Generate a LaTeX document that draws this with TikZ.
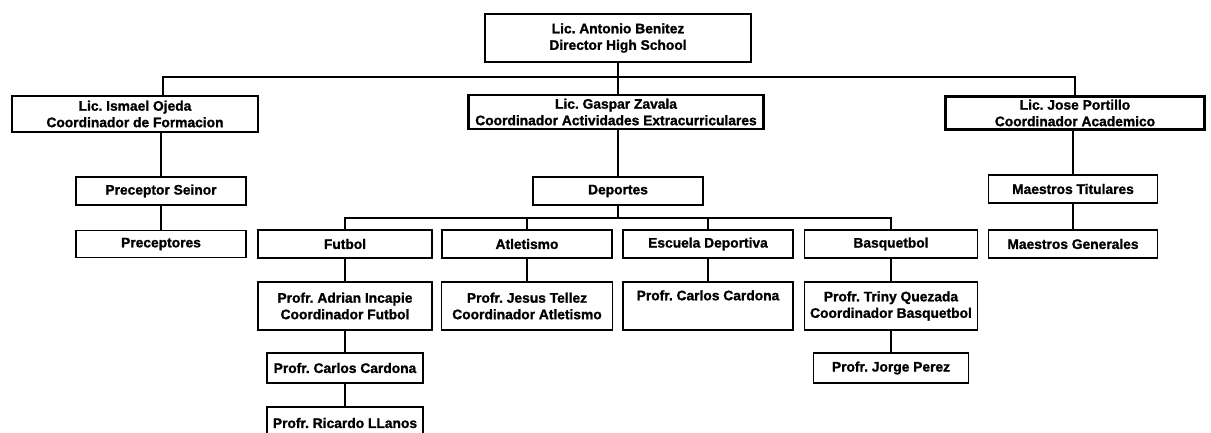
\documentclass[tikz,border=0pt]{standalone}
\usepackage{fontspec}
\setmainfont{Liberation Sans}[BoldFeatures={FakeBold=1.2}]
\frenchspacing
\begin{document}
\begin{tikzpicture}[x=1pt,y=-1pt,
  base/.style={draw=black,fill=white,inner sep=0pt,align=center,
    font=\bfseries\fontsize{13.8}{16.5}\selectfont},
  headbox/.style={base,line width=2.8pt},
  unitbox/.style={base,line width=1.5pt},
  conn/.style={line width=1.6pt}]
\useasboundingbox (0,0) rectangle (1211,432);
\fill[white] (0,0) rectangle (1211,432);
% level 0
\node[headbox,minimum width=266,minimum height=48] (top) at (618,38) {Lic. Antonio Benitez\\Director High School};
% level 1
\node[headbox,minimum width=246,minimum height=36] (left) at (135,114) {Lic. Ismael Ojeda\\Coordinador de Formacion};
\node[headbox,minimum width=295,minimum height=34] (mid) at (616,112) {Lic. Gaspar Zavala\\Coordinador Actividades Extracurriculares};
\node[headbox,minimum width=259,minimum height=33] (right) at (1075,113) {Lic. Jose Portillo\\Coordinador Academico};
% left branch
\node[unitbox,minimum width=170,minimum height=28] (prs) at (161,191) {Preceptor Seinor};
\node[unitbox,minimum width=170,minimum height=27] (pre) at (161,244) {Preceptores};
% right branch
\node[unitbox,minimum width=169,minimum height=28] (mti) at (1073,189) {Maestros Titulares};
\node[unitbox,minimum width=169,minimum height=28] (mge) at (1073,244) {Maestros Generales};
% middle branch
\node[unitbox,minimum width=170,minimum height=28] (dep) at (618,191) {Deportes};
\node[unitbox,minimum width=174,minimum height=28] (fut) at (345,244) {Futbol};
\node[unitbox,minimum width=170,minimum height=28] (atl) at (527,244) {Atletismo};
\node[unitbox,minimum width=170,minimum height=28] (esc) at (708,244) {Escuela Deportiva};
\node[unitbox,minimum width=173,minimum height=28] (bas) at (891,244) {Basquetbol};
% level 3
\node[unitbox,minimum width=174,minimum height=48] (adr) at (345,306) {Profr. Adrian Incapie\\Coordinador Futbol};
\node[unitbox,minimum width=156,minimum height=30] (car1) at (345,368) {Profr. Carlos Cardona};
\node[unitbox,minimum width=156,minimum height=32] (ric) at (345,423) {Profr. Ricardo LLanos};
\node[unitbox,minimum width=171,minimum height=48] (jes) at (527,306) {Profr. Jesus Tellez\\Coordinador Atletismo};
\node[unitbox,minimum width=170,minimum height=48] (car2) at (708,306) {Profr. Carlos Cardona\\\strut};
\node[unitbox,minimum width=173,minimum height=48] (tri) at (891,306) {Profr. Triny Quezada\\Coordinador Basquetbol};
\node[unitbox,minimum width=155,minimum height=30] (jor) at (891,368) {Profr. Jorge Perez};
% connectors
\coordinate (barL) at (163,77);
\coordinate (barR) at (1075,77);
\coordinate (depbar) at (618,218);
\draw[conn] (top.south) -- (top.south |- mid.north);
\draw[conn] (barL |- left.north) -- (barL) -- (barR) -- (right.north);
\draw[conn] (prs.north) -- (prs.north |- left.south);
\draw[conn] (prs.south) -- (pre.north);
\draw[conn] (mti.north) -- (mti.north |- right.south);
\draw[conn] (mti.south) -- (mge.north);
\draw[conn] (dep.north) -- (dep.north |- mid.south);
\draw[conn] (dep.south) -- (depbar);
\draw[conn] (fut.north) |- (depbar);
\draw[conn] (bas.north) |- (depbar);
\draw[conn] (atl.north) -- (atl.north |- depbar);
\draw[conn] (esc.north) -- (esc.north |- depbar);
\draw[conn] (fut.south) -- (adr.north);
\draw[conn] (adr.south) -- (car1.north);
\draw[conn] (car1.south) -- (ric.north);
\draw[conn] (atl.south) -- (jes.north);
\draw[conn] (esc.south) -- (car2.north);
\draw[conn] (bas.south) -- (tri.north);
\draw[conn] (tri.south) -- (jor.north);
\end{tikzpicture}
\end{document}
